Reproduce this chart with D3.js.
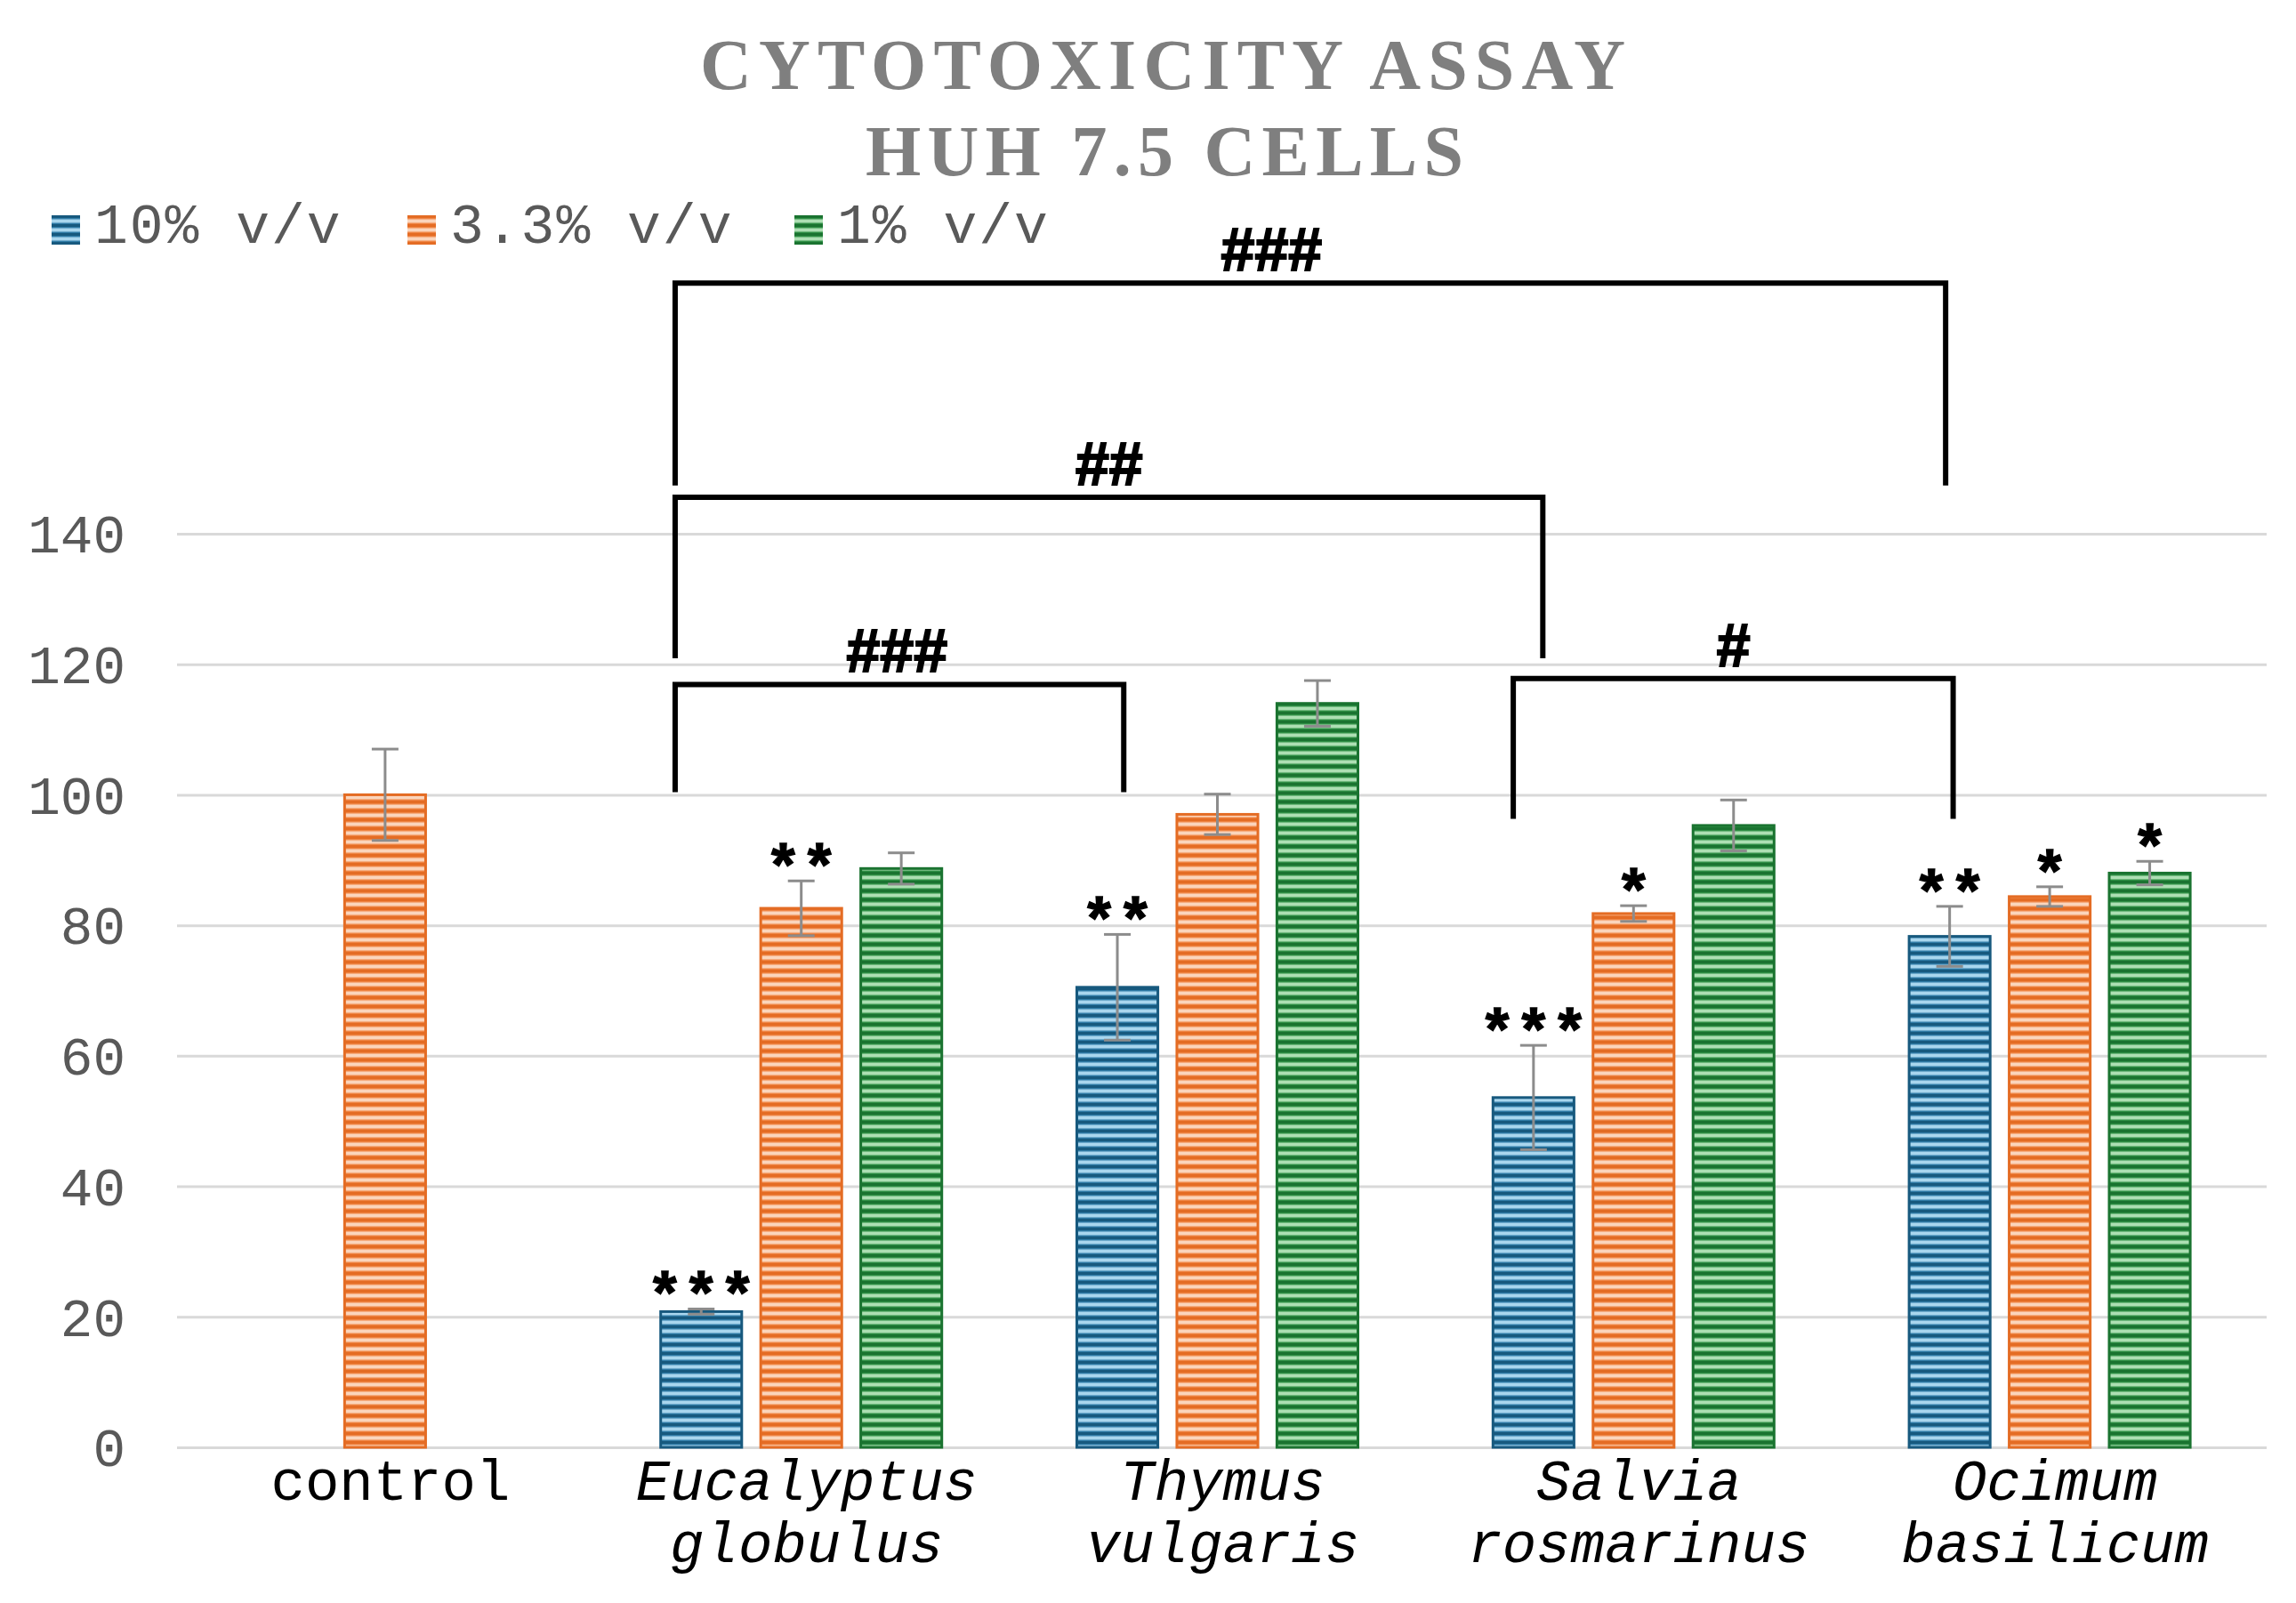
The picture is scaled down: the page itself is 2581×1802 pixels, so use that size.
<!DOCTYPE html>
<html>
<head>
<meta charset="utf-8">
<title>Cytotoxicity assay HUH 7.5</title>
<script src="https://d3js.org/d3.v7.min.js"></script>
<style>
  body { margin: 0; background: #fff; overflow: hidden; }
  .tick-label { font-family: "Liberation Mono", monospace; fill: #595959; }
  .cat-label { font-family: "Liberation Mono", monospace; fill: #000; }
</style>
</head>
<body>
<script>
// ---- data ----
var categories = ["control", "Eucalyptus globulus", "Thymus vulgaris", "Salvia rosmarinus", "Ocimum basilicum"];
var series = ["10% v/v", "3.3% v/v", "1% v/v"];
// mean viability (%) per series, one value per category (null = not measured)
var values10 = [null, 20.8, 70.5, 53.6, 78.3];
var values33 = [100, 82.6, 97.0, 81.8, 84.4];
var values1  = [null, 88.7, 114.0, 95.3, 88.0];
// error bar half widths
var err10 = [null, 0.4, 8.1, 8.0, 4.6];
var err33 = [7.0, 4.2, 3.1, 1.2, 1.5];
var err1  = [null, 2.4, 3.5, 3.9, 1.8];
// significance vs control
var stars10 = ["", "***", "**", "***", "**"];
var stars33 = ["", "**", "", "*", "*"];
var stars1  = ["", "", "", "", "*"];
var yTicks = [0, 20, 40, 60, 80, 100, 120, 140];
// comparison brackets: x in category-index units, y in value units
var brackets = [
  { label: "###", x1: 0.697, x2: 3.750, lx: 2.13, y: 178.4, drop: 147.4 },
  { label: "##",  x1: 0.697, x2: 2.782, lx: 1.74, y: 145.6, drop: 120.9 },
  { label: "###", x1: 0.697, x2: 1.775, lx: 1.23, y: 116.9, drop: 100.4 },
  { label: "#",   x1: 2.711, x2: 3.768, lx: 3.24, y: 117.8, drop: 96.3 }
];

var W = 2581, H = 1802;
var colors = {
  "10% v/v":  { dark: "#17597e", mid: "#2f7ba6", light: "#a9d6ee" },
  "3.3% v/v": { dark: "#e46c24", mid: "#ef8544", light: "#fbd5bc" },
  "1% v/v":   { dark: "#1a7330", mid: "#2f8f45", light: "#addfb3" }
};

var rows = categories.map(function(c, i) {
  return {
    cat: c,
    bars: [
      { s: series[0], v: values10[i], e: err10[i], st: stars10[i] },
      { s: series[1], v: values33[i], e: err33[i], st: stars33[i] },
      { s: series[2], v: values1[i],  e: err1[i],  st: stars1[i] }
    ]
  };
});

var svg = d3.select("body").append("svg")
  .attr("width", W)
  .attr("height", H);

// striped fills
var defs = svg.append("defs");
series.forEach(function(s, i) {
  var c = colors[s];
  var p = defs.append("pattern")
    .attr("id", "stripe" + i)
    .attr("patternUnits", "userSpaceOnUse")
    .attr("width", 20).attr("height", 10);
  p.append("rect").attr("width", 20).attr("height", 10).attr("fill", c.mid);
  p.append("rect").attr("y", 0).attr("width", 20).attr("height", 3).attr("fill", c.dark);
  p.append("rect").attr("y", 5).attr("width", 20).attr("height", 3).attr("fill", c.light);
  p.append("rect").attr("y", 4).attr("width", 20).attr("height", 1).attr("fill", c.light).attr("opacity", 0.5);
  p.append("rect").attr("y", 8).attr("width", 20).attr("height", 1).attr("fill", c.light).attr("opacity", 0.5);
});

// scales
var plotLeft = 199, plotRight = 2548;
var x0 = d3.scaleBand().domain(categories).range([plotLeft, 2538]).padding(0);
var x1 = d3.scaleBand().domain(series).range([-158, 158]).paddingInner(0.19);
var y = d3.scaleLinear().domain([0, 140]).range([1627, 600]);
var xIdx = d3.scaleLinear().domain([0, 4])
  .range([x0(categories[0]) + x0.bandwidth() / 2, x0(categories[4]) + x0.bandwidth() / 2]);

// title
svg.append("text")
  .attr("x", 1307).attr("y", 100)
  .attr("text-anchor", "middle")
  .attr("textLength", 1040).attr("lengthAdjust", "spacing")
  .style("font-family", "Liberation Serif").style("font-weight", "bold")
  .style("font-size", "80px").style("fill", "#7f7f7f")
  .text("CYTOTOXICITY ASSAY");
svg.append("text")
  .attr("x", 1309).attr("y", 197)
  .attr("text-anchor", "middle")
  .attr("textLength", 672).attr("lengthAdjust", "spacing")
  .style("font-family", "Liberation Serif").style("font-weight", "bold")
  .style("font-size", "80px").style("fill", "#7f7f7f")
  .text("HUH 7.5 CELLS");

// legend
var legendX = [58, 458, 893];
var lg = svg.append("g").selectAll("g").data(series).enter().append("g")
  .attr("transform", function(d, i) { return "translate(" + legendX[i] + ",242)"; });
lg.append("rect")
  .attr("width", 32).attr("height", 33)
  .attr("fill", function(d, i) { return "url(#stripe" + i + ")"; });
lg.append("text")
  .attr("x", 48).attr("y", 31)
  .attr("class", "tick-label")
  .style("font-size", "63px")
  .style("letter-spacing", "2px")
  .text(function(d) { return d; });

// grid + y labels
var yAxis = d3.axisLeft(y).tickValues(yTicks).tickSize(-(plotRight - plotLeft)).tickPadding(58);
var ga = svg.append("g").attr("transform", "translate(" + plotLeft + ",0)").call(yAxis);
ga.select(".domain").remove();
ga.selectAll(".tick line").attr("stroke", "#d9d9d9").attr("stroke-width", 3);
ga.selectAll(".tick text")
  .attr("class", "tick-label")
  .style("font-size", "61px")
  .attr("dy", "0.34em");

// bars
var groups = svg.append("g").selectAll("g").data(rows).enter().append("g")
  .attr("transform", function(d) { return "translate(" + (x0(d.cat) + x0.bandwidth() / 2) + ",0)"; });

var bar = groups.selectAll("g.bar")
  .data(function(d) { return d.bars.filter(function(b) { return b.v !== null; }); })
  .enter().append("g").attr("class", "bar");

bar.append("rect")
  .attr("x", function(d) { return x1(d.s); })
  .attr("width", x1.bandwidth())
  .attr("y", function(d) { return y(d.v); })
  .attr("height", function(d) { return y(0) - y(d.v); })
  .attr("fill", function(d) { return "url(#stripe" + series.indexOf(d.s) + ")"; })
  .attr("stroke", function(d) { return colors[d.s].dark; })
  .attr("stroke-width", 3);

// error bars
var eb = bar.append("g")
  .attr("stroke", "#8c8c8c").attr("stroke-width", 3);
eb.append("line")
  .attr("x1", function(d) { return x1(d.s) + x1.bandwidth() / 2; })
  .attr("x2", function(d) { return x1(d.s) + x1.bandwidth() / 2; })
  .attr("y1", function(d) { return y(d.v + d.e); })
  .attr("y2", function(d) { return y(d.v - d.e); });
[1, -1].forEach(function(sgn) {
  eb.append("line")
    .attr("x1", function(d) { return x1(d.s) + x1.bandwidth() / 2 - 15; })
    .attr("x2", function(d) { return x1(d.s) + x1.bandwidth() / 2 + 15; })
    .attr("y1", function(d) { return y(d.v + sgn * d.e); })
    .attr("y2", function(d) { return y(d.v + sgn * d.e); });
});

// stars
bar.append("text")
  .attr("x", function(d) { return x1(d.s) + x1.bandwidth() / 2; })
  .attr("y", function(d) { return y(d.v + d.e) + 8; })
  .attr("text-anchor", "middle")
  .style("font-family", "Liberation Mono").style("font-weight", "bold")
  .style("font-size", "68px").style("fill", "#000")
  .style("stroke", "#000").style("stroke-width", 1.5)
  .text(function(d) { return d.st; });

// category labels
var cl = svg.append("g").selectAll("text").data(categories).enter().append("text")
  .attr("class", "cat-label")
  .attr("text-anchor", "middle")
  .style("font-size", "64px")
  .style("font-style", function(d) { return d === "control" ? "normal" : "italic"; })
  .attr("transform", function(d) { return "translate(" + (x0(d) + x0.bandwidth() / 2 + 6) + ",1686)"; });
cl.selectAll("tspan")
  .data(function(d) { return d.split(" "); })
  .enter().append("tspan")
  .attr("x", 0)
  .attr("y", function(d, i) { return i * 70; })
  .text(function(d) { return d; });

// comparison brackets
var bg = svg.append("g").selectAll("g").data(brackets).enter().append("g");
bg.append("path")
  .attr("fill", "none").attr("stroke", "#000").attr("stroke-width", 6)
  .attr("d", function(d) {
    return "M" + xIdx(d.x1) + "," + y(d.drop) +
      "V" + y(d.y) + "H" + xIdx(d.x2) + "V" + y(d.drop);
  });
bg.append("text")
  .attr("x", function(d) { return xIdx(d.lx); })
  .attr("y", function(d) { return y(d.y) - 14; })
  .attr("text-anchor", "middle")
  .style("font-family", "Liberation Sans").style("font-weight", "bold")
  .style("font-size", "68px").style("fill", "#000")
  .style("stroke", "#000").style("stroke-width", 2)
  .text(function(d) { return d.label; });
</script>
</body>
</html>
